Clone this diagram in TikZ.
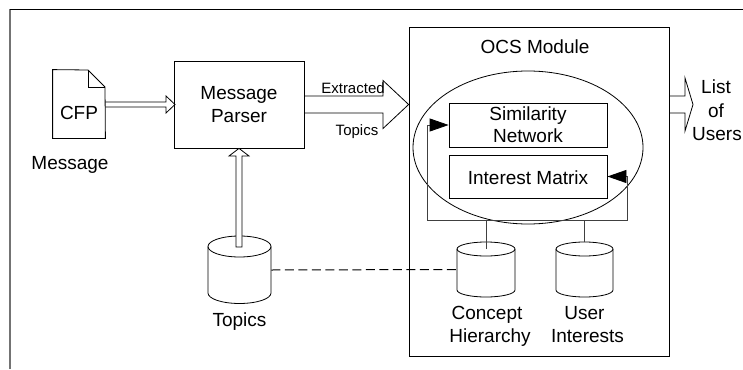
\documentclass[tikz,border=0pt]{standalone}
\usepackage{fontspec}
\setmainfont{Liberation Sans}
\usetikzlibrary{shapes.geometric,arrows.meta,calc}
\newcommand\dbcyl[5]{%
  \draw[fill=white] (#1-#4,#2) -- (#1-#4,#3) arc[start angle=180,end angle=360,x radius=#4pt,y radius=#5pt] -- (#1+#4,#2);
  \draw (#1,#2) ellipse[x radius=#4pt, y radius=#5pt];
}
\begin{document}
\begin{tikzpicture}[x=1pt,y=-1pt,
  line width=0.8pt,
  box/.style={draw, rectangle, inner sep=0pt},
  txt/.style={font=\fontsize{19}{22.5}\selectfont, inner sep=0pt, anchor=base},
  stxt/.style={font=\fontsize{15}{18}\selectfont, inner sep=0pt, anchor=base},
  tri/.style={-{Triangle[length=19pt,width=13pt,color=black]}},
  conn/.style={draw=black!75, line width=0.8pt},
  blockarrow/.style={draw, line join=miter}]
\useasboundingbox (0,0) rectangle (743,369);
% frame
\draw[line width=1.2pt, black!55] (10,369) -- (10,9);
\draw (10,9) -- (743,9);

% OCS module
\node[box, minimum width=260pt, minimum height=329pt] (ocs) at (539,191.5) {};
\node[txt] (ocslbl) at (535,53) {OCS Module};
\node[draw, ellipse, minimum width=230pt, minimum height=153pt, inner sep=0pt] (oval) at (528,147.5) {};
\node[box, minimum width=158pt, minimum height=44pt] (sim) at (528,125) {};
\node[txt] (simA) at (528,120) {Similarity};
\node[txt] (simB) at (528,142) {Network};
\node[box, minimum width=158pt, minimum height=43pt] (im) at (528,176.5) {};
\node[txt] (imlbl) at (528,184) {Interest Matrix};

% parser
\node[box, minimum width=130pt, minimum height=87pt] (parser) at (239,104.5) {};
\node[txt] (pA) at (239,99.5) {Message};
\node[txt] (pB) at (239,122) {Parser};

% CFP document
\node[inner sep=0pt, minimum width=52pt, minimum height=68pt] (cfp) at (79,104) {};
\draw (cfp.south west) -- (cfp.north west) -- (88,70) -- (105,87) -- (cfp.south east) -- cycle;
\draw (88,70) -- (88,87) -- (105,87);
\node[txt] (cfplbl) at (79,119.5) {CFP};
\node[txt] (msglbl) at (70,169) {Message};

% cylinders
\node[inner sep=0pt, minimum width=63pt, minimum height=68pt] (topicsdb) at (239.5,270) {};
\dbcyl{239.5}{246.5}{293}{31.5}{10.5}
\node[txt] (topicslbl) at (239.5,326) {Topics};

\node[inner sep=0pt, minimum width=58pt, minimum height=55pt] (chdb) at (486,269.5) {};
\dbcyl{486}{249}{290}{29}{7}
\node[txt] (chA) at (487,319) {Concept};
\node[txt] (chB) at (490,342) {Hierarchy};

\node[inner sep=0pt, minimum width=57pt, minimum height=55pt] (uidb) at (584.5,269.5) {};
\dbcyl{584.5}{249}{290}{28.5}{7}
\node[txt] (uiA) at (584.5,319) {User};
\node[txt] (uiB) at (587.5,342) {Interests};

% block arrows
\draw[blockarrow] (cfp.east |- 0,102) -- (166,102) -- (166,96) -- (175,104.5) -- (166,113) -- (166,107) -- (cfp.east |- 0,107);
\draw[blockarrow] (parser.east |- 0,96) -- (383,96) -- (383,80.5) -- (ocs.west |- 0,104.5) -- (383,128.5) -- (383,113) -- (parser.east |- 0,113);
\node[stxt] (exA) at (353,93) {Extracted};
\node[stxt] (exB) at (357,135) {Topics};
\draw[blockarrow, fill=white] (236,247) -- (236,156) -- (229,156) -- (parser.south) -- (249,156) -- (242,156) -- (242,247) -- cycle;
\draw[blockarrow] (ocs.east |- 0,96) -- (685,96) -- (685,78) -- (693,104.5) -- (685,131) -- (685,113) -- (ocs.east |- 0,113);
\node[txt] (lA) at (716,93) {List};
\node[txt] (lB) at (716,117) {of};
\node[txt] (lC) at (717,140) {Users};

% dashed link
\draw[line width=1pt, dash pattern=on 9pt off 4.5pt] (topicsdb.east) -- (chdb.west);

% internal connectors
\coordinate (busL) at (427,220);
\coordinate (busR) at (627,220);
\draw[conn, tri] (486,249) -- (486,220) -- (busL) |- (sim.west);
\draw[conn, tri] (uidb.north) -- (584.5,220) -- (busR) |- (im.east);
\draw[conn] (486,220) -- (584.5,220);
\end{tikzpicture}
\end{document}
